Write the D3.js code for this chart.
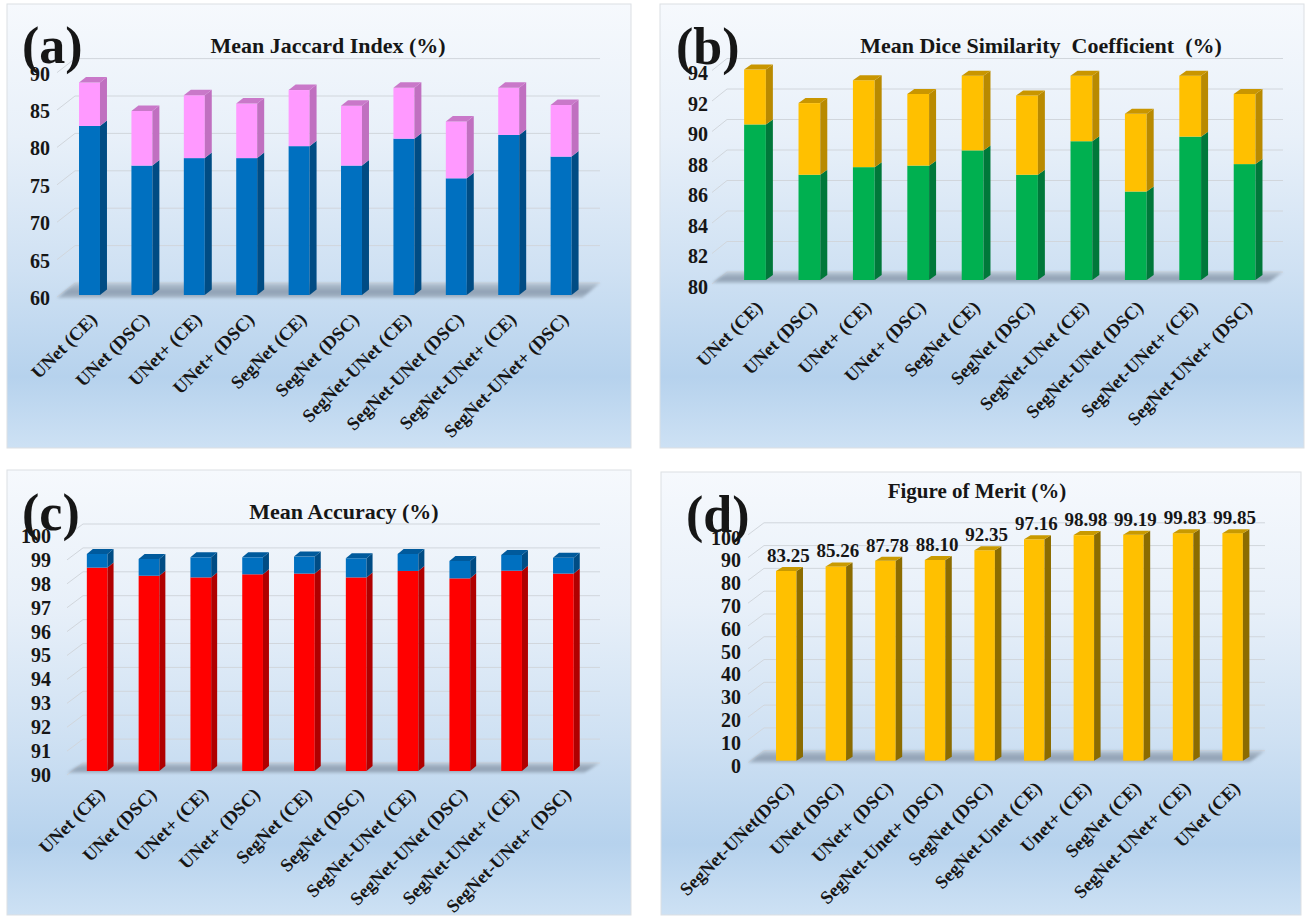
<!DOCTYPE html>
<html>
<head>
<meta charset="utf-8">
<script src="https://cdn.jsdelivr.net/npm/d3@7"></script>
<style>
  html, body { margin: 0; padding: 0; background: #ffffff; }
  svg { display: block; }
  text { font-family: "Liberation Serif", "Times New Roman", serif; font-weight: bold; fill: #161616; }
</style>
</head>
<body>
<svg id="chart" width="1308" height="919"></svg>
<script>
// Model names used by panels (a), (b) and (c)
const categories = ["UNet (CE)", "UNet (DSC)", "UNet+ (CE)", "UNet+ (DSC)", "SegNet (CE)",
  "SegNet (DSC)", "SegNet-UNet (CE)", "SegNet-UNet (DSC)", "SegNet-UNet+ (CE)", "SegNet-UNet+ (DSC)"];

// (a) Mean Jaccard index: lower segment and top of the stacked column
const jaccardLow = [82.6, 77.3, 78.3, 78.3, 79.9, 77.3, 80.9, 75.6, 81.4, 78.5];
const jaccardHigh = [88.4, 84.6, 86.7, 85.6, 87.4, 85.3, 87.7, 83.2, 87.7, 85.4];
const jaccardTicks = [60, 65, 70, 75, 80, 85, 90];

// (b) Mean Dice similarity coefficient
const diceLow = [90.2, 86.9, 87.4, 87.5, 88.5, 86.9, 89.1, 85.8, 89.4, 87.6];
const diceHigh = [93.8, 91.6, 93.1, 92.2, 93.4, 92.1, 93.4, 90.9, 93.4, 92.2];
const diceTicks = [80, 82, 84, 86, 88, 90, 92, 94];

// (c) Mean accuracy
const accLow = [98.51, 98.17, 98.10, 98.23, 98.26, 98.10, 98.37, 98.06, 98.38, 98.26];
const accHigh = [99.08, 98.87, 98.94, 98.94, 98.97, 98.90, 99.08, 98.79, 99.04, 98.92];
const accTicks = [90, 91, 92, 93, 94, 95, 96, 97, 98, 99, 100];

// (d) Figure of merit, sorted ascending
const meritCategories = ["SegNet-UNet(DSC)", "UNet (DSC)", "UNet+ (DSC)", "SegNet-Unet+ (DSC)",
  "SegNet (DSC)", "SegNet-Unet (CE)", "Unet+ (CE)", "SegNet (CE)", "SegNet-UNet+ (CE)", "UNet (CE)"];
const meritValues = [83.25, 85.26, 87.78, 88.10, 92.35, 97.16, 98.98, 99.19, 99.83, 99.85];
const meritTicks = [0, 10, 20, 30, 40, 50, 60, 70, 80, 90, 100];

const svg = d3.select("#chart");
const defs = svg.append("defs");

// Panel background: pale at the top, light blue lower down
const bg = defs.append("linearGradient").attr("id", "panelBg")
  .attr("x1", 0).attr("y1", 0).attr("x2", 0).attr("y2", 1);
[[0, "#f6f9fd"], [0.3, "#e8f0f9"], [0.6, "#cfe1f3"], [0.84, "#b6d2ed"], [1, "#cde1f4"]]
  .forEach(([o, c]) => bg.append("stop").attr("offset", o).attr("stop-color", c));

const floorGrad = defs.append("linearGradient").attr("id", "floorGrad")
  .attr("x1", 0).attr("y1", 0).attr("x2", 0).attr("y2", 1);
[[0, "#b3c1cf"], [0.6, "#8495a8"], [1, "#a6b6c7"]]
  .forEach(([o, c]) => floorGrad.append("stop").attr("offset", o).attr("stop-color", c));

defs.append("filter").attr("id", "soft").attr("x", "-5%").attr("y", "-50%")
  .attr("width", "110%").attr("height", "200%")
  .append("feGaussianBlur").attr("stdDeviation", 1.4);

function drawPanel(cfg) {
  const g = svg.append("g");
  g.append("rect").attr("x", cfg.box[0]).attr("y", cfg.box[1])
    .attr("width", cfg.box[2]).attr("height", cfg.box[3])
    .attr("fill", "url(#panelBg)").attr("stroke", "#dcdfe3").attr("stroke-width", 1);

  const [d0, d1] = cfg.domain;
  const y = d3.scaleLinear().domain(cfg.domain)
    .range([cfg.base, cfg.base - (d1 - d0) * cfg.pxPerUnit]);
  const x = d3.scaleBand().domain(cfg.cats).range(cfg.xRange)
    .paddingInner(cfg.pad).paddingOuter(cfg.pad / 2);
  const bw = x.bandwidth();

  // back-wall gridlines with their short slanted part on the side wall
  const w = cfg.wall;
  g.append("g").selectAll("polyline").data(cfg.ticks).join("polyline")
    .attr("points", t => {
      const yb = y(t) - w.shift;
      return [[w.x0, yb + w.dy], [w.x0 + w.dx, yb], [w.x1, yb]].map(p => p.join(",")).join(" ");
    })
    .attr("fill", "none").attr("stroke", "#d1d6dc").attr("stroke-width", 1);

  // floor of the plot
  const yf = y(d0);
  g.append("polygon")
    .attr("points", [[w.x0, yf + w.floorFront], [w.x0 + w.dx, yf - w.shift],
      [w.x1, yf - w.shift], [w.x1 - w.dx, yf + w.floorFront]].map(p => p.join(",")).join(" "))
    .attr("fill", "url(#floorGrad)").attr("opacity", 0.85).attr("filter", "url(#soft)");

  // columns: front face, right side and top cap for every stacked segment
  const bd = cfg.depth;
  cfg.cats.forEach((c, i) => {
    const x0 = x(c);
    cfg.series.forEach((s, k) => {
      const lo = k === 0 ? d0 : cfg.series[k - 1].values[i];
      const hi = s.values[i];
      const yt = y(hi), yb = y(lo);
      g.append("rect").attr("x", x0).attr("y", yt).attr("width", bw).attr("height", yb - yt)
        .attr("fill", s.front);
      g.append("polygon")
        .attr("points", [[x0 + bw, yb], [x0 + bw, yt], [x0 + bw + bd.dx, yt - bd.dy], [x0 + bw + bd.dx, yb - bd.dy]]
          .map(p => p.join(",")).join(" "))
        .attr("fill", s.side);
      if (k === cfg.series.length - 1) {
        g.append("polygon")
          .attr("points", [[x0, yt], [x0 + bd.dx, yt - bd.dy], [x0 + bw + bd.dx, yt - bd.dy], [x0 + bw, yt]]
            .map(p => p.join(",")).join(" "))
          .attr("fill", s.top);
      }
    });
    if (cfg.valueLabels) {
      const v = cfg.series[cfg.series.length - 1].values[i];
      g.append("text")
        .attr("x", x0 + bw / 2 + 2).attr("y", y(v) - bd.dy - 5)
        .attr("text-anchor", "middle").attr("font-size", cfg.valueFont)
        .text(d3.format(".2f")(v));
    }
  });

  // value axis
  const ya = g.append("g")
    .attr("transform", `translate(${cfg.yLabelX},${cfg.yLabelDy})`)
    .call(d3.axisLeft(y).tickValues(cfg.ticks).tickSize(0).tickPadding(0).tickFormat(d3.format("d")));
  ya.select(".domain").remove();
  ya.attr("font-family", null).attr("font-size", null);
  ya.selectAll("text").attr("font-size", cfg.yFont).attr("fill", null);

  // category axis with slanted names
  const xa = g.append("g").attr("transform", `translate(0,${cfg.base})`)
    .call(d3.axisBottom(x).tickSize(0));
  xa.select(".domain").remove();
  xa.attr("font-family", null).attr("font-size", null);
  xa.selectAll("text")
    .attr("x", 0).attr("y", 0).attr("dy", "0.35em").attr("fill", null)
    .attr("font-size", cfg.xFont).attr("text-anchor", "end")
    .attr("transform", `translate(${cfg.xLabelDx},${cfg.xLabelDy}) rotate(-45)`);

  // title and panel letter
  g.append("text").attr("x", cfg.title[1]).attr("y", cfg.title[2])
    .attr("text-anchor", "middle").attr("font-size", cfg.title[3])
    .style("white-space", "pre").text(cfg.title[0]);
  g.append("text").attr("x", cfg.letter[1]).attr("y", cfg.letter[2])
    .attr("font-size", 52).text(cfg.letter[0]);
}

drawPanel({
  box: [7, 4, 624, 444],
  domain: [60, 90], base: 295, pxPerUnit: 7.48, ticks: jaccardTicks,
  cats: categories, xRange: [63.3, 587.3], pad: 0.6,
  depth: { dx: 7, dy: 5.5 },
  wall: { x0: 57, dx: 18, dy: 14, shift: 12, x1: 600, floorFront: 3 },
  series: [
    { values: jaccardLow, front: "#0070c0", side: "#004c84", top: "#005a9c" },
    { values: jaccardHigh, front: "#ff99ff", side: "#c070c0", top: "#c978c9" }
  ],
  yLabelX: 50, yLabelDy: 3, yFont: 20, xFont: 18.5, xLabelDx: 4, xLabelDy: 21,
  title: ["Mean Jaccard Index (%)", 328, 53, 22],
  letter: ["(a)", 22, 63]
});

drawPanel({
  box: [660, 4, 644, 444],
  domain: [80, 94], base: 280, pxPerUnit: 15.25, ticks: diceTicks,
  cats: categories, xRange: [727.8, 1271.8], pad: 0.6,
  depth: { dx: 7, dy: 5 },
  wall: { x0: 712, dx: 15, dy: 12, shift: 8, x1: 1283, floorFront: 3 },
  series: [
    { values: diceLow, front: "#00b050", side: "#00783a", top: "#008a40" },
    { values: diceHigh, front: "#ffc000", side: "#b98a00", top: "#c99600" }
  ],
  yLabelX: 708, yLabelDy: 6.7, yFont: 20, xFont: 18.5, xLabelDx: 4, xLabelDy: 24,
  title: ["Mean Dice Similarity  Coefficient  (%)", 1041, 53, 22],
  letter: ["(b)", 676, 64]
});

drawPanel({
  box: [7, 470, 624, 445],
  domain: [90, 100], base: 771, pxPerUnit: 23.9, ticks: accTicks,
  cats: categories, xRange: [71.3, 589.3], pad: 0.6,
  depth: { dx: 6, dy: 5 },
  wall: { x0: 67, dx: 16, dy: 12, shift: 8, x1: 600, floorFront: 2 },
  series: [
    { values: accLow, front: "#ff0000", side: "#b00000", top: "#c00000" },
    { values: accHigh, front: "#0070c0", side: "#004c84", top: "#005a9c" }
  ],
  yLabelX: 51, yLabelDy: 4, yFont: 20, xFont: 18.5, xLabelDx: 4, xLabelDy: 20,
  title: ["Mean Accuracy (%)", 344, 519, 22],
  letter: ["(c)", 22, 530]
});

drawPanel({
  box: [661, 472, 640, 443],
  domain: [0, 100], base: 760.7, pxPerUnit: 2.279, ticks: meritTicks,
  cats: meritCategories, xRange: [761.45, 1257.45], pad: 0.587,
  depth: { dx: 6.5, dy: 4 },
  wall: { x0: 748, dx: 16, dy: 12, shift: 10, x1: 1265, floorFront: 2 },
  series: [
    { values: meritValues, front: "#ffc000", side: "#8c6c00", top: "#c99a00" }
  ],
  valueLabels: true, valueFont: 19,
  yLabelX: 741, yLabelDy: 5, yFont: 20, xFont: 18.5, xLabelDx: 4, xLabelDy: 24,
  title: ["Figure of Merit (%)", 977, 498, 21],
  letter: ["(d)", 686, 532]
});
</script>
</body>
</html>
